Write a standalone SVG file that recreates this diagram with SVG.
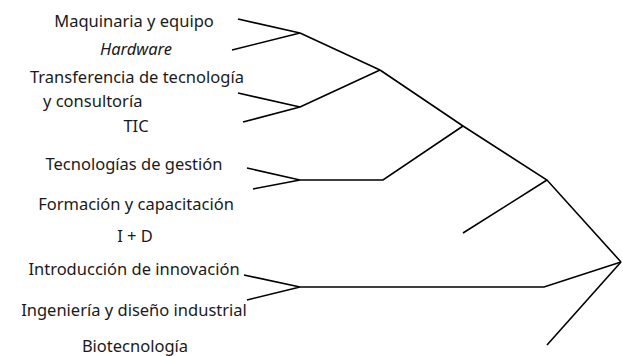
<svg xmlns="http://www.w3.org/2000/svg" width="623" height="356" viewBox="0 0 623 356">
<style>
text{font-family:"Noto Sans","Open Sans",sans-serif;font-size:16.5px;fill:#1a1a1a;text-anchor:middle}
.l{text-anchor:start}
.i{font-style:italic}
#connectors path{fill:none;stroke:#000;stroke-width:1.6;stroke-linejoin:miter}
</style>
<rect width="623" height="356" fill="#fff"/>
<g id="connectors">
<path d="M238,19 L300,33 L232,50 M300,33 L380,70"/>
<path d="M238,93 L300,107 L243,122 M300,107 L380,70"/>
<path d="M380,70 L463,126 L547,180 L621,262"/>
<path d="M247,168 L300,180 L253,189 M300,180 L383,180 L463,126"/>
<path d="M547,180 L463,233"/>
<path d="M244,275 L300,287 L247,300 M300,287 L544,287 L621,262"/>
<path d="M621,262 L547,345"/>
</g>
<g id="maquinaria"><text x="134" y="27">Maquinaria y equipo</text></g>
<g id="hardware"><text class="i" x="136" y="55">Hardware</text></g>
<g id="transferencia"><text class="l" x="30" y="83">Transferencia de tecnología</text><text class="l" x="43" y="107">y consultoría</text></g>
<g id="tic"><text x="136" y="132">TIC</text></g>
<g id="gestion"><text x="134" y="170">Tecnologías de gestión</text></g>
<g id="formacion"><text x="136" y="210">Formación y capacitación</text></g>
<g id="id"><text x="135" y="242">I + D</text></g>
<g id="introduccion"><text x="134" y="275">Introducción de innovación</text></g>
<g id="ingenieria"><text x="134" y="316">Ingeniería y diseño industrial</text></g>
<g id="biotecnologia"><text x="135" y="352">Biotecnología</text></g>
</svg>
